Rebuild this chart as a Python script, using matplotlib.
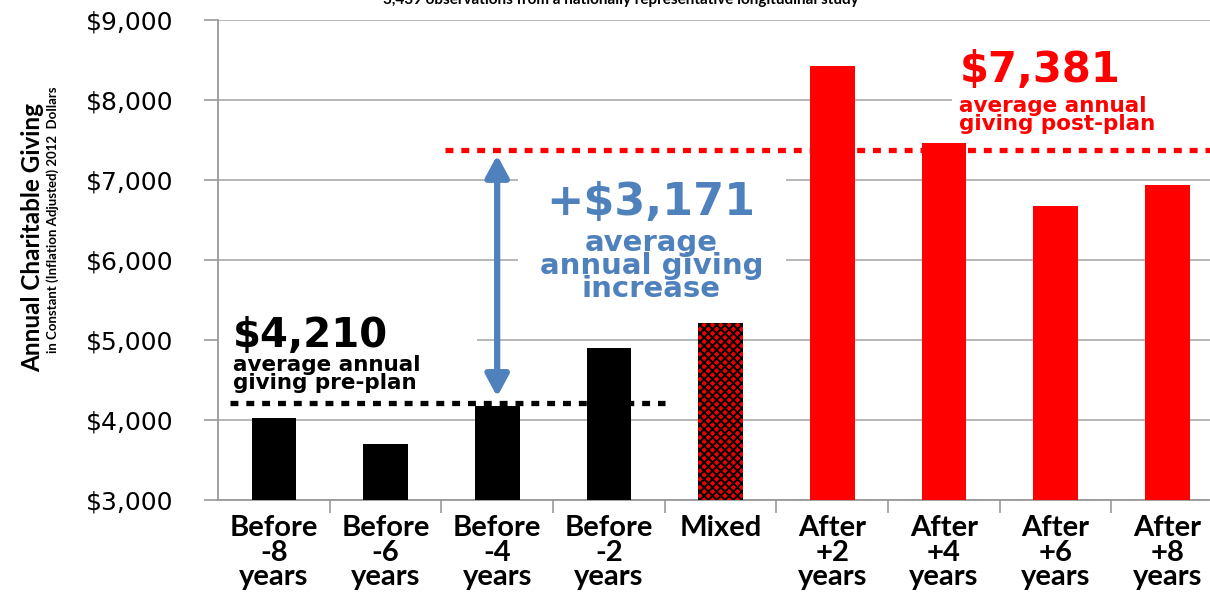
import matplotlib
matplotlib.use("Agg")
import matplotlib.pyplot as plt
from matplotlib.patches import Rectangle

categories = ["Before\n-8\nyears", "Before\n-6\nyears", "Before\n-4\nyears", "Before\n-2\nyears",
              "Mixed", "After\n+2\nyears", "After\n+4\nyears", "After\n+6\nyears", "After\n+8\nyears"]
values = [4030, 3700, 4180, 4900, 5210, 8430, 7460, 6670, 6940]
groups = ["pre", "pre", "pre", "pre", "mixed", "post", "post", "post", "post"]
pre_avg = 4210
post_avg = 7381
increase = 3171
yticks = [3000, 4000, 5000, 6000, 7000, 8000, 9000]

plt.rcParams['hatch.linewidth'] = 1.4

W, H = 1210, 592
fig = plt.figure(figsize=(W / 100, H / 100), dpi=100)
ax = fig.add_axes([218 / W, 92 / H, (1223 - 218) / W, 480 / H])

x = list(range(len(categories)))
colors = {"pre": "black", "post": "#ff0000", "mixed": "#e00000"}
for xi, v, g in zip(x, values, groups):
    if g == "mixed":
        ax.bar(xi, v - 3000, bottom=3000, width=0.4, color="#ee0000", edgecolor="black",
               linewidth=0, hatch="xxxx", zorder=3)
    else:
        ax.bar(xi, v - 3000, bottom=3000, width=0.4, color=colors[g], linewidth=0, zorder=3)

ax.set_xlim(-0.5, len(categories) - 0.5)
ax.set_ylim(3000, 9000)
ax.set_yticks(yticks)
ax.set_yticklabels([f"${t:,}" for t in yticks], fontsize=18, family="DejaVu Sans")
ax.set_xticks(x)
ax.set_xticklabels(categories, fontsize=21, family="Lato", fontweight="bold", linespacing=0.93,
                   va="top")
ax.tick_params(axis="x", length=0, pad=11)
ax.set_xticks([i + 0.5 for i in x[:-1]], minor=True)
ax.tick_params(axis="x", which="minor", length=9, width=1.2, color="#999999", direction="out")
ax.tick_params(axis="y", length=10, width=1.2, color="#999999", pad=22)

ax.grid(axis="y", color="#aaaaaa", linewidth=1.2, zorder=0)
ax.set_axisbelow(True)
for s in ["top", "right"]:
    ax.spines[s].set_visible(False)
for s in ["left", "bottom"]:
    ax.spines[s].set_color("#999999")
    ax.spines[s].set_linewidth(1.3)

# white boxes behind annotations (hide gridlines)
ax.add_patch(Rectangle((-0.5, 4330), 2.32, 1150, facecolor="white", edgecolor="none", zorder=1))
ax.add_patch(Rectangle((2.19, 5350), 2.4, 2000, facecolor="white", edgecolor="none", zorder=1))
ax.add_patch(Rectangle((6.07, 7550), 2.5, 1350, facecolor="white", edgecolor="none", zorder=1))

# average lines
ax.plot([-0.39, 3.5], [pre_avg, pre_avg], color="black", linewidth=3.8,
        dashes=(1.5, 1.5), dash_capstyle="butt", zorder=4)
ax.plot([1.53, 8.5], [post_avg, post_avg], color="#ff0000", linewidth=3.8,
        dashes=(1.5, 1.5), dash_capstyle="butt", zorder=4)

# blue double arrow
blue = "#4f81bd"
ax.annotate("", xy=(2, pre_avg + 80), xytext=(2, post_avg - 70),
            arrowprops=dict(arrowstyle="<|-|>,head_length=1.3,head_width=0.7", color=blue,
                            lw=4.5, shrinkA=0, shrinkB=0), zorder=5)

# annotations
ax.text(-0.37, 4912, f"${pre_avg:,}", fontsize=29, fontweight="bold", family="DejaVu Sans",
        color="black", va="baseline", ha="left", zorder=6)
ax.text(-0.37, 4810, "average annual\ngiving pre-plan", fontsize=15.5, fontweight="bold",
        family="DejaVu Sans", color="black", va="top", ha="left", linespacing=0.85, zorder=6)

ax.text(3.38, 6562, f"+${increase:,}", fontsize=32, fontweight="bold", family="DejaVu Sans",
        color=blue, va="baseline", ha="center", zorder=6)
ax.text(3.38, 6390, "average\nannual giving\nincrease", fontsize=21, fontweight="bold",
        family="DejaVu Sans", color=blue, va="top", ha="center", linespacing=0.78, zorder=6)

ax.text(6.14, 8225, f"${post_avg:,}", fontsize=30, fontweight="bold", family="DejaVu Sans",
        color="#ff0000", va="baseline", ha="left", zorder=6)
ax.text(6.14, 8045, "average annual\ngiving post-plan", fontsize=15.5, fontweight="bold",
        family="DejaVu Sans", color="#ff0000", va="top", ha="left", linespacing=0.85, zorder=6)

# y-axis labels
fig.text(33 / W, 1 - 238 / H, "Annual Charitable Giving", rotation=90, fontsize=17.5,
         fontweight="bold", family="Lato", ha="center", va="center")
fig.text(53 / W, 1 - 220 / H, "in Constant (Inflation Adjusted) 2012  Dollars", rotation=90,
         fontsize=9.5, fontweight="bold", family="Lato", ha="center", va="center")

# cut-off subtitle at top
fig.text(621 / W, 1 - 4 / H, "3,439 observations from a nationally representative longitudinal study",
         fontsize=11, fontweight="bold", family="Lato", ha="center", va="baseline")

fig.savefig("out.png", dpi=100)
